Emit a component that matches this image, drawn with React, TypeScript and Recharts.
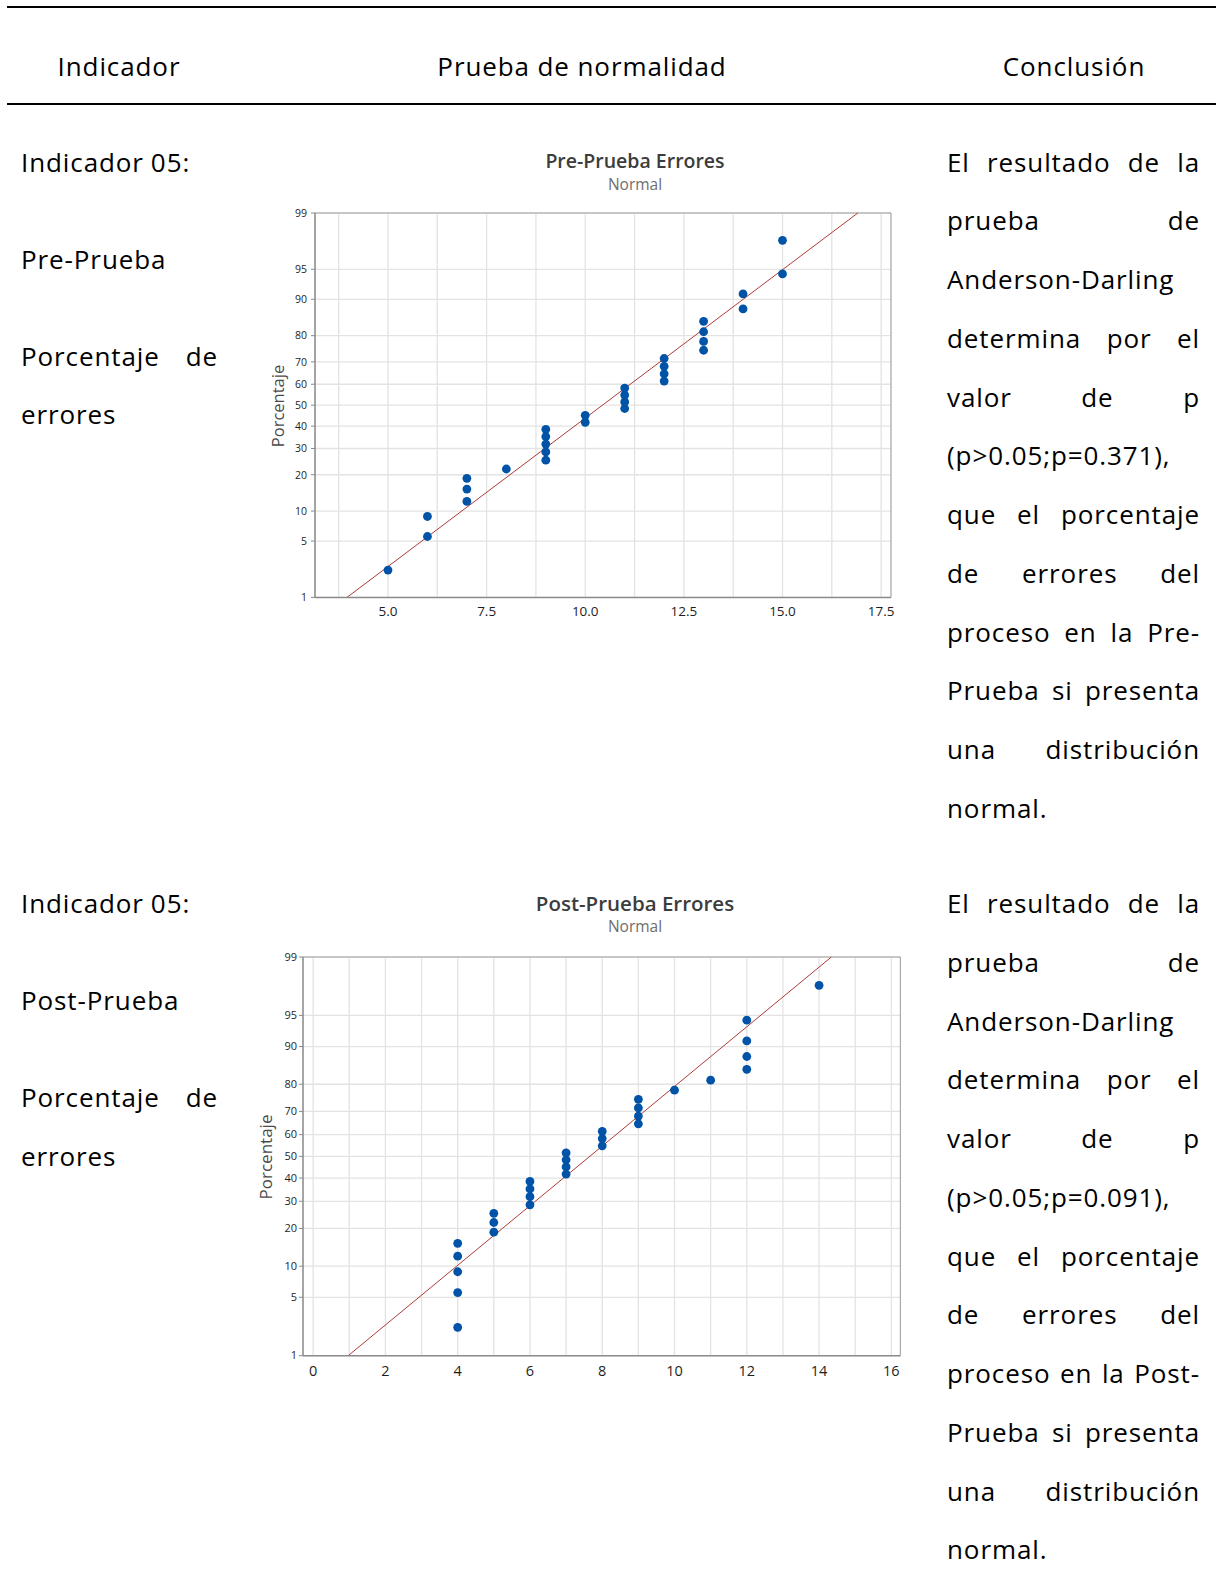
import React from 'react';
import { ComposedChart, Scatter, XAxis, YAxis, CartesianGrid, ReferenceLine } from 'recharts';

// ---------- data ----------
const percentTicks = [1, 5, 10, 20, 30, 40, 50, 60, 70, 80, 90, 95, 99];

const preValues = [5, 6, 6, 7, 7, 7, 8, 9, 9, 9, 9, 9, 10, 10, 11, 11, 11, 11, 12, 12, 12, 12, 13, 13, 13, 13, 14, 14, 15, 15];
const prePercents = [2.3, 5.6, 8.9, 12.2, 15.5, 18.8, 22.0, 25.3, 28.6, 31.9, 35.2, 38.5, 41.8, 45.1, 48.4, 51.6, 54.9, 58.2, 61.5, 64.8, 68.1, 71.4, 74.7, 78.0, 81.3, 84.5, 87.8, 91.1, 94.4, 97.7];
const preFit = [{ x: 3.96, p: 1 }, { x: 16.91, p: 99 }];
const preXTicks = [3.75, 5, 6.25, 7.5, 8.75, 10, 11.25, 12.5, 13.75, 15, 16.25, 17.5];
const preXLabels = [5, 7.5, 10, 12.5, 15, 17.5];

const postValues = [4, 4, 4, 4, 4, 5, 5, 5, 6, 6, 6, 6, 7, 7, 7, 7, 8, 8, 8, 9, 9, 9, 9, 10, 11, 12, 12, 12, 12, 14];
const postPercents = [2.3, 5.6, 8.9, 12.2, 15.5, 18.8, 22.0, 25.3, 28.6, 31.9, 35.2, 38.5, 41.8, 45.1, 48.4, 51.6, 54.9, 58.2, 61.5, 64.8, 68.1, 71.4, 74.7, 78.0, 81.3, 84.5, 87.8, 91.1, 94.4, 97.7];
const postFit = [{ x: 0.97, p: 1 }, { x: 14.34, p: 99 }];
const postXTicks = [0, 1, 2, 3, 4, 5, 6, 7, 8, 9, 10, 11, 12, 13, 14, 15, 16];
const postXLabels = [0, 2, 4, 6, 8, 10, 12, 14, 16];

const headers = ['Indicador', 'Prueba de normalidad', 'Conclusión'];
const preLeftText = ['Indicador 05:', 'Pre-Prueba', 'Porcentaje de', 'errores'];
const postLeftText = ['Indicador 05:', 'Post-Prueba', 'Porcentaje de', 'errores'];
const preConclusion = [
  'El resultado de la', 'prueba de', 'Anderson-Darling', 'determina por el', 'valor de p',
  '(p>0.05;p=0.371),', 'que el porcentaje', 'de errores del', 'proceso en la Pre-',
  'Prueba si presenta', 'una distribución', 'normal.',
];
const postConclusion = [
  'El resultado de la', 'prueba de', 'Anderson-Darling', 'determina por el', 'valor de p',
  '(p>0.05;p=0.091),', 'que el porcentaje', 'de errores del', 'proceso en la Post-',
  'Prueba si presenta', 'una distribución', 'normal.',
];

// ---------- normal probability scale (inverse normal CDF) ----------
function probit(p: number): number {
  const a = [-3.969683028665376e1, 2.209460984245205e2, -2.759285104469687e2, 1.38357751867269e2, -3.066479806614716e1, 2.506628277459239];
  const b = [-5.447609879822406e1, 1.615858368580409e2, -1.556989798598866e2, 6.680131188771972e1, -1.328068155288572e1];
  const c = [-7.784894002430293e-3, -3.223964580411365e-1, -2.400758277161838, -2.549671010229528, 4.374664141464968, 2.938163982698783];
  const d = [7.784695709041462e-3, 3.224671290700398e-1, 2.445134137142996, 3.754408661907416];
  const pl = 0.02425;
  if (p < pl) {
    const q = Math.sqrt(-2 * Math.log(p));
    return (((((c[0] * q + c[1]) * q + c[2]) * q + c[3]) * q + c[4]) * q + c[5]) / ((((d[0] * q + d[1]) * q + d[2]) * q + d[3]) * q + 1);
  }
  if (p <= 1 - pl) {
    const q = p - 0.5;
    const r = q * q;
    return ((((((a[0] * r + a[1]) * r + a[2]) * r + a[3]) * r + a[4]) * r + a[5]) * q) / (((((b[0] * r + b[1]) * r + b[2]) * r + b[3]) * r + b[4]) * r + 1);
  }
  const q = Math.sqrt(-2 * Math.log(1 - p));
  return -(((((c[0] * q + c[1]) * q + c[2]) * q + c[3]) * q + c[4]) * q + c[5]) / ((((d[0] * q + d[1]) * q + d[2]) * q + d[3]) * q + 1);
}

const yTicks = percentTicks.map((p) => probit(p / 100));
const yMin = probit(0.01);
const yMax = probit(0.99);
const pctLabel = (z: number) => {
  let best = percentTicks[0];
  let bd = Infinity;
  percentTicks.forEach((p) => {
    const dd = Math.abs(probit(p / 100) - z);
    if (dd < bd) { bd = dd; best = p; }
  });
  return String(best);
};

const FONT = "'Open Sans', 'Noto Sans', sans-serif";
const BODY_FONT = "'Open Sans', 'Noto Sans', sans-serif";
const BODY_SIZE = 26;
const BODY_LS = 0.9;
const ASC = 27.8; // Open Sans ascender at 26px
const LH = 35.4;

type PlotProps = {
  values: number[];
  percents: number[];
  fit: { x: number; p: number }[];
  xDomain: [number, number];
  xTicks: number[];
  xLabels: number[];
  xFmt: (v: number) => string;
  left: number;
  top: number;
  w: number;
  h: number;
  title: string;
  titleSize: number;
  titleY: number;
  subY: number;
  titleCx: number;
  yLabelX: number;
  yLabelSize: number;
  xFont: number;
  xLabelDy: number;
  yFont: number;
  yGap: number;
};

function ProbPlot(props: PlotProps) {
  const { values, percents, fit, xDomain, xTicks, xLabels, xFmt, left, top, w, h } = props;
  const data = values.map((v, i) => ({ x: v, y: probit(percents[i] / 100) }));
  const AXW = 60;
  const MT = 10;
  const MR = 10;
  const AXH = 30;

  const XTick = (tp: any) => {
    const { x, y, payload } = tp;
    const v = payload.value as number;
    if (!xLabels.some((l) => Math.abs(l - v) < 1e-6)) return null;
    return (
      <text x={x} y={y + props.xLabelDy} textAnchor="middle" fontSize={props.xFont} fontWeight={500} fill="#1e1e1e" fontFamily={FONT}>
        {xFmt(v)}
      </text>
    );
  };
  const YTick = (tp: any) => {
    const { x, y, payload } = tp;
    return (
      <g>
        <line x1={x - 4} x2={x} y1={y} y2={y} stroke="#8a8a8a" strokeWidth={1} />
        <text x={x - props.yGap} y={y + 3.8} textAnchor="end" fontSize={props.yFont} fill="#1e1e1e" fontFamily={FONT}>
          {pctLabel(payload.value)}
        </text>
      </g>
    );
  };

  return (
    <>
      <div style={{ position: 'absolute', left: props.titleCx - 200, top: props.titleY - 14, width: 400, textAlign: 'center', fontFamily: FONT, fontSize: props.titleSize, fontWeight: 600, color: '#3c3c3c', lineHeight: '26px', whiteSpace: 'nowrap' }}>
        {props.title}
      </div>
      <div style={{ position: 'absolute', left: props.titleCx - 200, top: props.subY - 10, width: 400, textAlign: 'center', fontFamily: FONT, fontSize: 15.5, color: '#6e6e6e', lineHeight: '20px' }}>
        Normal
      </div>
      <div style={{ position: 'absolute', left: props.yLabelX - 60, top: top + h / 2 - 12, width: 120, height: 24, textAlign: 'center', fontFamily: FONT, fontSize: props.yLabelSize, color: '#4a4a4a', lineHeight: '24px', transform: 'rotate(-90deg)' }}>
        Porcentaje
      </div>
      <div style={{ position: 'absolute', left: left - AXW, top: top - MT }}>
        <ComposedChart width={w + AXW + MR} height={h + MT + AXH} margin={{ top: MT, right: MR, bottom: 0, left: 0 }}>
          <CartesianGrid stroke="#e3e3e3" strokeWidth={1.3} />
          <XAxis
            type="number"
            dataKey="x"
            domain={xDomain}
            ticks={xTicks}
            allowDataOverflow
            interval={0}
            height={AXH}
            tickSize={0}
            tickMargin={0}
            tickLine={false}
            axisLine={{ stroke: '#8c8c8c', strokeWidth: 1.5 }}
            tick={XTick}
          />
          <YAxis
            type="number"
            dataKey="y"
            domain={[yMin, yMax]}
            ticks={yTicks}
            allowDataOverflow
            interval={0}
            width={AXW}
            tickSize={0}
            tickMargin={0}
            tickLine={false}
            axisLine={{ stroke: '#8c8c8c', strokeWidth: 1.5 }}
            tick={YTick}
          />
          <ReferenceLine y={yMax} stroke="#a3a3a3" strokeWidth={1} />
          <ReferenceLine x={xDomain[1]} stroke="#a3a3a3" strokeWidth={1} />
          <ReferenceLine
            segment={[
              { x: fit[0].x, y: probit(fit[0].p / 100) },
              { x: fit[1].x, y: probit(fit[1].p / 100) },
            ]}
            stroke="#ad3a36"
            strokeWidth={1}
          />
          <Scatter
            data={data}
            isAnimationActive={false}
            shape={(sp: any) => <circle cx={sp.cx} cy={sp.cy} r={4.4} fill="#0053a6" />}
          />
        </ComposedChart>
      </div>
    </>
  );
}

function TextLine({ text, left, width, baseline, justify }: { text: string; left: number; width: number; baseline: number; justify: boolean }) {
  const words = text.split(' ');
  return (
    <div
      style={{
        position: 'absolute',
        left,
        width,
        top: baseline - ASC,
        height: LH,
        lineHeight: LH + 'px',
        fontFamily: BODY_FONT,
        fontSize: BODY_SIZE,
        letterSpacing: BODY_LS,
        color: '#000',
        display: 'flex',
        justifyContent: justify && words.length > 1 ? 'space-between' : 'flex-start',
        whiteSpace: 'nowrap',
      }}
    >
      {words.map((wd, i) => (
        <span key={i} style={{ marginRight: !justify && i < words.length - 1 ? 7 : 0 }}>{wd}</span>
      ))}
    </div>
  );
}

function Row({ leftText, conclusion, base }: { leftText: string[]; conclusion: string[]; base: number }) {
  const leftBaselines = [base, base + 97, base + 194, base + 252.7];
  const step = 58.75;
  return (
    <>
      {leftText.map((t, i) => (
        <TextLine key={'l' + i} text={t} left={21} width={197} baseline={leftBaselines[i]} justify={i === 2} />
      ))}
      {conclusion.map((t, i) => (
        <TextLine key={'r' + i} text={t} left={947} width={253} baseline={base + i * step} justify={i < conclusion.length - 1} />
      ))}
    </>
  );
}

export default function App() {
  const headerCenters = [119, 582, 1074];
  return (
    <div style={{ position: 'absolute', left: 0, top: 0, width: 1216, height: 1584, background: '#fff', overflow: 'hidden' }}>
      <div style={{ position: 'absolute', left: 7, top: 6, width: 1209, height: 2, background: '#000' }} />
      <div style={{ position: 'absolute', left: 7, top: 103, width: 1209, height: 2, background: '#000' }} />
      {headers.map((h, i) => (
        <div key={h} style={{ position: 'absolute', left: headerCenters[i] - 200, width: 400, top: 77 - ASC, lineHeight: LH + 'px', textAlign: 'center', fontFamily: BODY_FONT, fontSize: BODY_SIZE, letterSpacing: BODY_LS, color: '#000' }}>
          {h}
        </div>
      ))}

      <Row leftText={preLeftText} conclusion={preConclusion} base={172.5} />
      <Row leftText={postLeftText} conclusion={postConclusion} base={914} />

      <ProbPlot
        values={preValues}
        percents={prePercents}
        fit={preFit}
        xDomain={[3.15, 17.75]}
        xTicks={preXTicks}
        xLabels={preXLabels}
        xFmt={(v) => v.toFixed(1)}
        left={315}
        top={213.3}
        w={576}
        h={384.4}
        title="Pre-Prueba Errores"
        titleSize={19.5}
        titleY={162}
        subY={184}
        titleCx={635}
        yLabelX={278}
        yLabelSize={16.5}
        xFont={13.5}
        xLabelDy={19}
        yFont={10.5}
        yGap={8}
      />
      <ProbPlot
        values={postValues}
        percents={postPercents}
        fit={postFit}
        xDomain={[-0.28, 16.25]}
        xTicks={postXTicks}
        xLabels={postXLabels}
        xFmt={(v) => String(v)}
        left={303.3}
        top={957.3}
        w={597.4}
        h={398.7}
        title="Post-Prueba Errores"
        titleSize={20.5}
        titleY={904}
        subY={926}
        titleCx={635}
        yLabelX={266}
        yLabelSize={17}
        xFont={14.5}
        xLabelDy={20.5}
        yFont={11}
        yGap={6}
      />
    </div>
  );
}
